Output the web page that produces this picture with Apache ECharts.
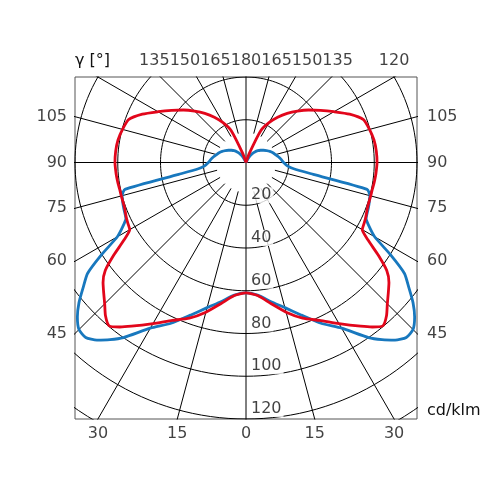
<!DOCTYPE html>
<html>
<head>
<meta charset="utf-8">
<script src="https://cdn.jsdelivr.net/npm/echarts@6/dist/echarts.min.js"></script>
<style>
  html, body { margin: 0; padding: 0; background: #fff; }
  #chart { width: 500px; height: 500px; }
</style>
</head>
<body>
<div id="chart"></div>
<script>
// luminous intensity (cd/klm) against gamma angle, 0 = straight down, 180 = straight up
const gamma = [0, 5, 10, 15, 20, 25, 30, 35, 37.5, 40, 42.5, 45, 47.5, 50, 52.5, 55, 57.5, 60, 62.5, 65,
  70, 75, 77.5, 80, 82.5, 85, 90, 95, 100, 105, 110, 115, 120, 125, 130, 135, 140, 145, 150, 155,
  160, 165, 170, 175, 180];
const blueCurve = [61, 62.3, 66, 70.3, 76, 83, 89.5, 100, 104.5, 108.5, 111, 110.5, 107, 102, 96, 90.5, 80, 69.5, 65, 62,
  61, 60, 58, 32, 22.5, 19.6, 17.6, 16.5, 15.4, 14.3, 13.4, 12.3, 11.1, 10, 8.9, 7.8, 6.4, 4.9, 3, 0.8,
  0, 0, 0, 0, 0];
const redCurve = [61, 62.5, 67, 72.5, 77.5, 81.5, 87, 93.5, 97, 99.7, 97.3, 93.5, 90.3, 87.3, 83, 75.5, 67.8, 62.8, 62.2, 61.7,
  60.6, 60.4, 60.4, 60.6, 60.8, 61, 61.3, 61.2, 60.8, 59.8, 58.5, 53.5, 47.5, 42.5, 38.2, 34, 30, 25.8, 21.5, 16.5,
  4.5, 0, 0, 0, 0];

// grid
const rings = [20, 40, 60, 80, 100, 120, 140];
const ringLabels = [20, 40, 60, 80, 100, 120];
const spokeStep = 15;

// visible window in cd/klm
const xMin = -80, xMax = 80, yMin = -120, yMax = 40;

// angle labels on the frame
const topLeftTicks = [135, 150, 165];
const topCenterTick = 180;
const topRightTicks = [165, 150, 135, 120];
const sideTicks = [105, 90, 75, 60, 45];
const bottomLeftTicks = [30, 15];
const bottomCenterTick = 0;
const bottomRightTicks = [15, 30];

const BLUE = '#1878be';
const RED = '#e2061b';
const TEXT = '#111';
const FONT = 'DejaVu Sans';

const rad = d => d * Math.PI / 180;
// side: -1 left half, +1 right half
const toXY = (g, r, side) => [side * r * Math.sin(rad(g)), -r * Math.cos(rad(g))];

function curveData(vals) {
  const pts = [];
  for (let i = gamma.length - 1; i >= 0; i--) pts.push(toXY(gamma[i], vals[i], -1));
  for (let i = 1; i < gamma.length; i++) pts.push(toXY(gamma[i], vals[i], 1));
  return pts;
}

const chart = echarts.init(document.getElementById('chart'));

const gridLine = { color: '#000', width: 1 };
const series = [];

rings.forEach(r => {
  const pts = [];
  for (let a = 0; a <= 360; a += 2) pts.push([r * Math.sin(rad(a)), -r * Math.cos(rad(a))]);
  series.push({ type: 'line', data: pts, showSymbol: false, silent: true, lineStyle: gridLine, z: 1, animation: false });
});

for (let a = 0; a < 360; a += spokeStep) {
  const inner = a % 90 === 0 ? 0 : 14;
  series.push({
    type: 'line', showSymbol: false, silent: true, lineStyle: gridLine, z: 1, animation: false,
    data: [[inner * Math.sin(rad(a)), -inner * Math.cos(rad(a))], [200 * Math.sin(rad(a)), -200 * Math.cos(rad(a))]]
  });
}

// ring value labels, sitting on the lower half of each circle
series.push({
  type: 'scatter', symbolSize: 0, silent: true, z: 3, animation: false,
  data: ringLabels.map(r => [0, -r, r]),
  label: {
    show: true, position: [3, -2], align: 'left', verticalAlign: 'bottom',
    formatter: p => p.value[2], color: TEXT, fontSize: 16, fontFamily: FONT,
    backgroundColor: '#fff', padding: [0, 2, 0, 2]
  }
});

series.push({
  name: 'C0-C180', type: 'line', data: curveData(blueCurve), showSymbol: false, smooth: 0.2,
  lineStyle: { color: BLUE, width: 2.8 }, z: 5, animation: false
});
series.push({
  name: 'C90-C270', type: 'line', data: curveData(redCurve), showSymbol: false, smooth: 0.2,
  lineStyle: { color: RED, width: 2.8 }, z: 6, animation: false
});

// frame labels
const edgeLabel = { show: true, formatter: p => p.value[2], color: TEXT, fontSize: 16, fontFamily: FONT };

const topPts = []
  .concat(topLeftTicks.map(g => [yMax * Math.tan(rad(g)), yMax, g]))
  .concat([[0, yMax, topCenterTick]])
  .concat(topRightTicks.map(g => [-yMax * Math.tan(rad(g)), yMax, g]));

series.push({
  type: 'scatter', symbolSize: 0, silent: true, clip: false, z: 4, animation: false,
  data: topPts,
  label: Object.assign({ position: 'top', distance: 8 }, edgeLabel),
  // push crowded labels outwards from the 180 label
  labelLayout: function (p) {
    const w = p.labelRect.width;
    const xs = topPts.map(pt => chart.convertToPixel({ gridIndex: 0 }, [pt[0], pt[1]])[0]);
    const k = topPts.findIndex(pt => pt[2] === topCenterTick);
    const pos = xs.slice();
    for (let i = k + 1; i < pos.length; i++) pos[i] = Math.max(xs[i], pos[i - 1] + w);
    for (let i = k - 1; i >= 0; i--) pos[i] = Math.min(xs[i], pos[i + 1] - w);
    return { x: pos[p.dataIndex], y: p.rect.y - 8, align: 'center', verticalAlign: 'bottom' };
  }
});

series.push({
  type: 'scatter', symbolSize: 0, silent: true, clip: false, z: 4, animation: false,
  data: sideTicks.map(g => [xMin, -xMax / Math.tan(rad(g)), g]),
  label: Object.assign({ position: 'left', distance: 8 }, edgeLabel)
});
series.push({
  type: 'scatter', symbolSize: 0, silent: true, clip: false, z: 4, animation: false,
  data: sideTicks.map(g => [xMax, -xMax / Math.tan(rad(g)), g]),
  label: Object.assign({ position: 'right', distance: 10 }, edgeLabel)
});

const bottomPts = []
  .concat(bottomLeftTicks.map(g => [yMin * Math.tan(rad(g)), yMin, g]))
  .concat([[0, yMin, bottomCenterTick]])
  .concat(bottomRightTicks.map(g => [-yMin * Math.tan(rad(g)), yMin, g]));
series.push({
  type: 'scatter', symbolSize: 0, silent: true, clip: false, z: 4, animation: false,
  data: bottomPts,
  label: Object.assign({ position: 'bottom', distance: 7 }, edgeLabel)
});

const option = {
  backgroundColor: '#fff',
  animation: false,
  grid: { left: 75, right: 83, top: 77, bottom: 81, show: true, borderColor: '#555', borderWidth: 1 },
  xAxis: {
    type: 'value', min: xMin, max: xMax, position: 'bottom',
    name: 'cd/klm', nameLocation: 'end', nameGap: 10,
    nameTextStyle: { color: TEXT, fontSize: 16, fontFamily: FONT, verticalAlign: 'bottom' },
    axisLine: { show: false, onZero: false }, axisTick: { show: false }, axisLabel: { show: false }, splitLine: { show: false }
  },
  yAxis: {
    type: 'value', min: yMin, max: yMax, position: 'left',
    name: 'γ [°]', nameLocation: 'end', nameGap: 8,
    nameTextStyle: { color: TEXT, fontSize: 16, fontFamily: FONT, align: 'left' },
    axisLine: { show: false, onZero: false }, axisTick: { show: false }, axisLabel: { show: false }, splitLine: { show: false }
  },
  series: series
};

chart.setOption(option);
</script>
</body>
</html>
